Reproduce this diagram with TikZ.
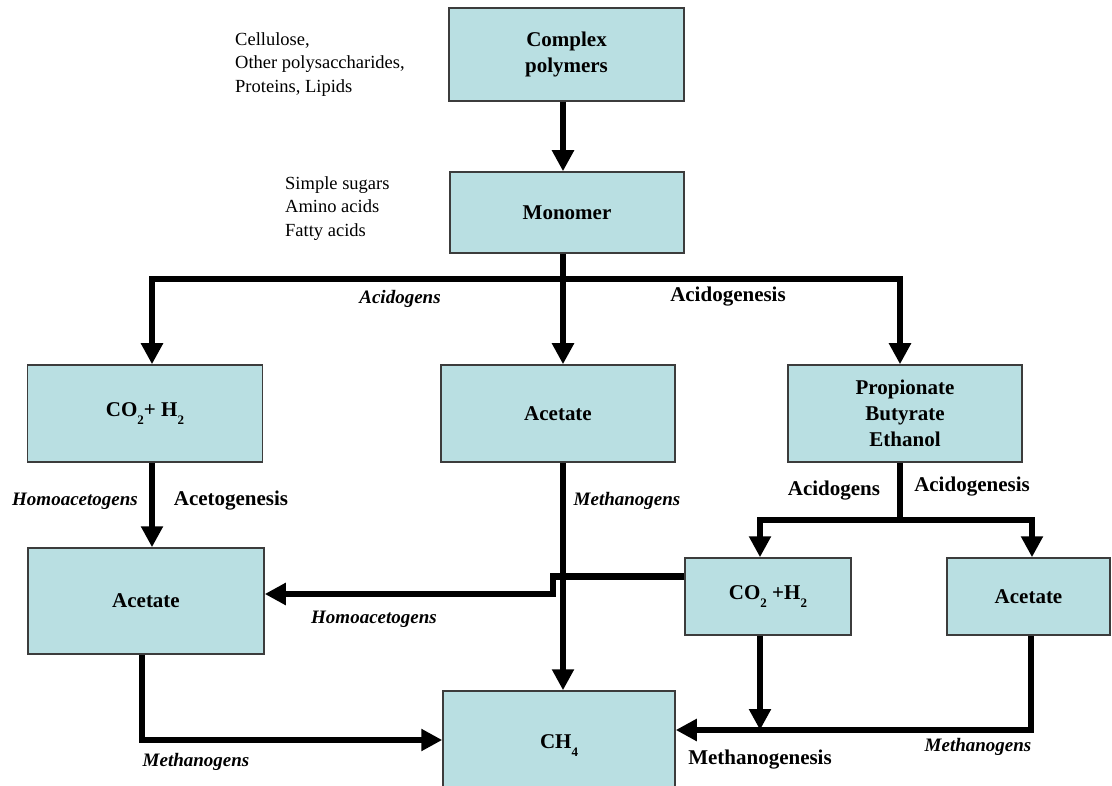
\documentclass[tikz,border=0pt]{standalone}
\usepackage{fontspec}
\setmainfont{Liberation Serif}
\usetikzlibrary{arrows.meta,calc}
\definecolor{boxfill}{RGB}{185,223,226}
\definecolor{boxline}{RGB}{60,60,60}
\newcommand{\sbs}[1]{\raisebox{-0.35em}{\fontsize{13}{13}\selectfont #1}}
\begin{document}
\begin{tikzpicture}[x=1pt,y=-1pt,
 box/.style={draw=boxline, line width=1.5pt, fill=boxfill, inner sep=0pt, align=center, font=\fontsize{21}{26}\selectfont\bfseries},
 arr/.style={line width=6.5pt, -{Triangle[length=21pt,width=21pt]}},
 ln/.style={line width=6.5pt},
 lab/.style={font=\fontsize{21}{24}\selectfont\bfseries, inner sep=0pt},
 ilab/.style={font=\fontsize{19}{22}\selectfont\bfseries\itshape, inner sep=0pt},
 note/.style={font=\fontsize{18.5}{23.5}\selectfont, align=left, inner sep=0pt, anchor=north west}]
\clip (0,0) rectangle (1112,786);
\fill[white] (0,0) rectangle (1112,786);

% boxes
\node[box, minimum width=235pt, minimum height=93pt] (cp) at (566.5,54.5) {Complex\\polymers};
\node[box, minimum width=234pt, minimum height=81pt] (mono) at (567,212.5) {Monomer};
\node[box, minimum width=235pt, minimum height=97pt] (co2a) at (145,413.5) {CO\sbs{2}+ H\sbs{2}};
\node[box, minimum width=234pt, minimum height=97pt] (aceM) at (558,413.5) {Acetate};
\node[box, minimum width=234pt, minimum height=97pt] (prop) at (905,413.5) {Propionate\\Butyrate\\Ethanol};
\node[box, minimum width=236pt, minimum height=106pt] (aceL) at (146,601) {Acetate};
\node[box, minimum width=166pt, minimum height=77pt] (co2b) at (768,596.5) {CO\sbs{2} +H\sbs{2}};
\node[box, minimum width=163pt, minimum height=77pt] (aceR) at (1028.5,596.5) {Acetate};
\node[box, minimum width=232pt, minimum height=109pt] (ch4) at (559,745.5) {CH\sbs{4}};

% side notes
\node[note] (n1) at (235,32) {Cellulose,\\Other polysaccharides,\\Proteins, Lipids};
\node[note] (n2) at (285,176) {Simple sugars\\Amino acids\\Fatty acids};

% helper coordinates
\coordinate (xm) at (563,0);
\coordinate (xl) at (152,0);
\coordinate (xr) at (900,0);
\coordinate (xb) at (760,0);
\coordinate (xc) at (1032,0);
\coordinate (hub) at (563,279);
\coordinate (split) at (900,520);
\coordinate (j1) at (553,576.5);
\coordinate (j2) at (553,594);
\coordinate (bl) at (142,740);
\coordinate (br) at (1031,730);

% connectors
\draw[arr] (cp.south -| xm) -- (mono.north -| xm);
\draw[ln] (mono.south -| xm) -- (hub);
\draw[arr] (hub) -- (aceM.north -| xm);
\draw[arr] (hub) -| (co2a.north -| xl);
\draw[arr] (hub) -| (prop.north -| xr);
\draw[arr] (co2a.south -| xl) -- (aceL.north -| xl);
\draw[arr] (aceM.south -| xm) -- (ch4.north -| xm);
\draw[ln] (prop.south -| xr) -- (split);
\draw[arr] (split) -| (co2b.north -| xb);
\draw[arr] (split) -| (aceR.north -| xc);
\draw[arr] ($(co2b.west)+(0,-20)$) -- (j1) -- (j2) -- (aceL.east |- j2);
\draw[arr] (aceL.south -| bl) -- (bl) -- (ch4.west |- bl);
\draw[arr] (aceR.south -| br) -- (br) -- (ch4.east |- br);
\draw[arr] (co2b.south -| xb) -- (xb |- br);

% labels
\node[ilab] (l1) at (400,299) {Acidogens};
\node[lab] (l2) at (728,297) {Acidogenesis};
\node[ilab] (l3) at (75,501) {Homoacetogens};
\node[lab] (l4) at (231,501) {Acetogenesis};
\node[ilab] (l5) at (627,501) {Methanogens};
\node[lab] (l6) at (834,491) {Acidogens};
\node[lab] (l7) at (972,487) {Acidogenesis};
\node[ilab] (l8) at (374,619) {Homoacetogens};
\node[ilab] (l9) at (196,762) {Methanogens};
\node[lab] (l10) at (760,760) {Methanogenesis};
\node[ilab] (l11) at (978,747) {Methanogens};
\end{tikzpicture}
\end{document}
